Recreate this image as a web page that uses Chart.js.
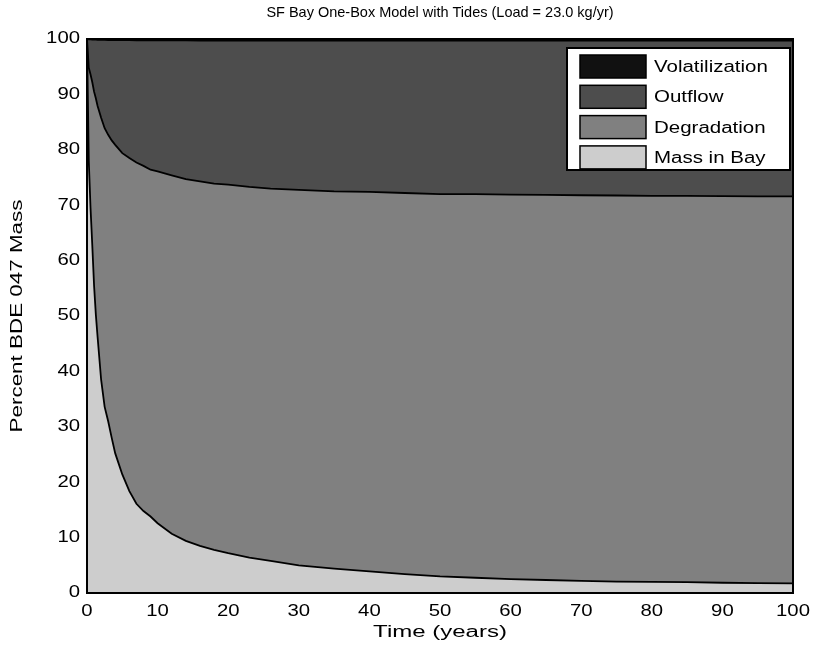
<!DOCTYPE html>
<html>
<head>
<meta charset="utf-8">
<script src="https://cdn.jsdelivr.net/npm/chart.js@4.4.0/dist/chart.umd.min.js"></script>
<style>
html, body { margin: 0; padding: 0; background: #fff; }
</style>
</head>
<body>
<canvas id="chart" width="814" height="655"></canvas>
<script>
// time axis (years) and the four stacked shares (percent of BDE 047 mass)
const years = [0, 0.25, 0.5, 0.75, 1, 1.25, 1.5, 2, 2.5, 3, 3.5, 4, 5, 6, 7, 8, 9, 10, 12, 14,
               16, 18, 20, 23, 26, 30, 35, 40, 45, 50, 55, 60, 65, 70, 75, 80, 85, 90, 95, 100];
const massInBay = [100, 78, 69.5, 62.7, 55.5, 50.3, 46.2, 38.5, 33.6, 31.0, 28.0, 25.2, 21.4, 18.4, 16.1, 14.8, 13.8, 12.6, 10.7, 9.4,
                   8.5, 7.8, 7.2, 6.4, 5.8, 5.0, 4.4, 3.9, 3.4, 3.0, 2.75, 2.5, 2.35, 2.2, 2.05, 2.0, 1.95, 1.85, 1.8, 1.75];
const degradation = [0, 16.8, 24.1, 29.5, 35.0, 39.0, 41.7, 47.3, 50.3, 51.7, 53.7, 55.7, 58.0, 60.1, 61.6, 62.3, 62.6, 63.5, 64.7, 65.3,
                     65.8, 66.1, 66.5, 66.9, 67.2, 67.75, 68.1, 68.5, 68.8, 69.0, 69.25, 69.4, 69.5, 69.6, 69.7, 69.7, 69.75, 69.8, 69.8, 69.85];
const outflow = [0, 5.15, 6.32, 7.7, 9.38, 10.57, 11.96, 14.04, 15.93, 17.12, 18.11, 18.9, 20.39, 21.28, 22.07, 22.66, 23.36, 23.65, 24.34, 25.04,
                 25.43, 25.83, 26.02, 26.42, 26.72, 26.96, 27.21, 27.3, 27.5, 27.7, 27.7, 27.8, 27.85, 27.9, 27.95, 28.0, 28.0, 28.05, 28.1, 28.1];
const volatilization = [0, 0.05, 0.08, 0.1, 0.12, 0.13, 0.14, 0.16, 0.17, 0.18, 0.19, 0.2, 0.21, 0.22, 0.23, 0.24, 0.24, 0.25, 0.26, 0.26,
                        0.27, 0.27, 0.28, 0.28, 0.28, 0.29, 0.29, 0.3, 0.3, 0.3, 0.3, 0.3, 0.3, 0.3, 0.3, 0.3, 0.3, 0.3, 0.3, 0.3];

const seriesNames = ["Mass in Bay", "Degradation", "Outflow", "Volatilization"];
const seriesColors = ["#cdcdcd", "#808080", "#4d4d4d", "#111111"];
const chartTitle = "SF Bay One-Box Model with Tides (Load = 23.0 kg/yr)";
const xTitle = "Time (years)";
const yTitle = "Percent BDE 047 Mass";
const FONT = "'Liberation Sans', Arial, Helvetica, sans-serif";

function toPoints(values) {
    return years.map((t, i) => ({ x: t, y: values[i] }));
}

const seriesValues = [massInBay, degradation, outflow, volatilization];
const datasets = seriesValues.map((vals, i) => ({
    label: seriesNames[i],
    data: toPoints(vals),
    backgroundColor: seriesColors[i],
    borderColor: "#000",
    borderWidth: 1.8,
    pointRadius: 0,
    tension: 0,
    fill: i === 0 ? "origin" : "-1",
}));

// the reference uses a wide sans face, so text is drawn with a horizontal stretch
function wideText(ctx, text, x, y, size, sx, align, rot) {
    ctx.save();
    ctx.translate(x, y);
    if (rot) ctx.rotate(rot);
    ctx.scale(sx, 1);
    ctx.font = size + "px " + FONT;
    ctx.textAlign = align;
    ctx.textBaseline = "middle";
    ctx.fillStyle = "#000";
    ctx.fillText(text, 0, 0);
    ctx.restore();
}

const decorations = {
    id: "decorations",
    afterDatasetsDraw(chart) {
        const ctx = chart.ctx;
        const a = chart.chartArea;
        ctx.save();
        ctx.strokeStyle = "#000";
        ctx.lineWidth = 2;
        ctx.strokeRect(a.left, a.top, a.right - a.left, a.bottom - a.top);
        ctx.restore();
    },
    afterDraw(chart) {
        const ctx = chart.ctx;
        const a = chart.chartArea;
        const xs = chart.scales.x, ys = chart.scales.y;

        wideText(ctx, chartTitle, (a.left + a.right) / 2, 13, 14.5, 1, "center");

        xs.ticks.forEach(t => {
            wideText(ctx, String(t.value), xs.getPixelForValue(t.value), 612, 16, 1.27, "center");
        });
        ys.ticks.forEach(t => {
            wideText(ctx, String(t.value), a.left - 7, ys.getPixelForValue(t.value), 16, 1.27, "right");
        });
        wideText(ctx, xTitle, (a.left + a.right) / 2, 633, 16, 1.5, "center");
        wideText(ctx, yTitle, 18, (a.top + a.bottom) / 2, 16, 1.4, "center", -Math.PI / 2);

        // legend
        const bx = 567, by = 48, bw = 223, bh = 122;
        ctx.save();
        ctx.fillStyle = "#fff";
        ctx.fillRect(bx, by, bw, bh);
        ctx.lineWidth = 2;
        ctx.strokeStyle = "#000";
        ctx.strokeRect(bx, by, bw, bh);
        const items = chart.data.datasets.slice().reverse();
        items.forEach((ds, k) => {
            const y = by + 7 + k * 30.3;
            ctx.fillStyle = ds.backgroundColor;
            ctx.fillRect(bx + 13, y, 66, 23);
            ctx.lineWidth = 1.5;
            ctx.strokeRect(bx + 13, y, 66, 23);
            wideText(ctx, ds.label, bx + 87, y + 12.5, 16, 1.28, "left");
        });
        ctx.restore();
    }
};

new Chart(document.getElementById("chart").getContext("2d"), {
    type: "line",
    data: { datasets: datasets },
    options: {
        responsive: false,
        animation: false,
        layout: { padding: { top: 39, right: 21, left: 0, bottom: 0 } },
        plugins: {
            legend: { display: false },
            title: { display: false },
            tooltip: { enabled: false },
            filler: { propagate: false },
        },
        scales: {
            x: {
                type: "linear",
                min: 0,
                max: 100,
                grid: { display: false, drawTicks: false },
                border: { display: false },
                ticks: { stepSize: 10, display: false },
                afterFit(scale) { scale.height = 62; },
            },
            y: {
                stacked: true,
                min: 0,
                max: 100,
                grid: { display: false, drawTicks: false },
                border: { display: false },
                ticks: { stepSize: 10, display: false },
                afterFit(scale) { scale.width = 87; },
            },
        },
    },
    plugins: [decorations],
});
</script>
</body>
</html>
